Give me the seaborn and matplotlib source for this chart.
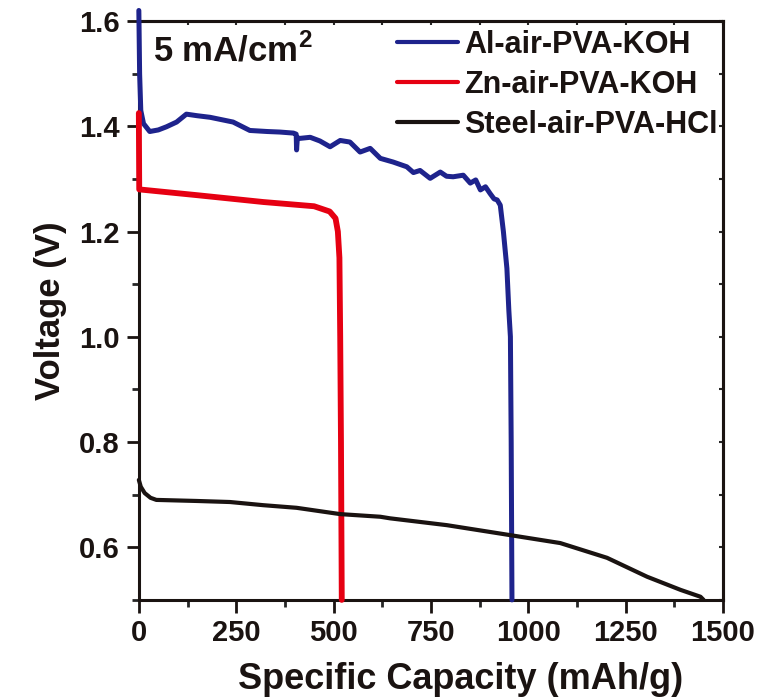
import matplotlib
matplotlib.use("Agg")
import matplotlib.pyplot as plt
import seaborn as sns
import pandas as pd
from matplotlib.ticker import MultipleLocator

# Al-air-PVA-KOH
al_cap = [0, 2, 5, 12, 28, 50, 71, 97, 122, 150, 183, 242, 285, 330, 362, 397, 404, 405,
          407, 414, 440, 465, 491, 517, 542, 568, 594, 620, 653, 688, 705, 722, 748, 774,
          790, 807, 833, 851, 865, 877, 890, 902, 912, 920, 928, 936, 945, 950, 954, 956, 958]
al_volt = [1.62, 1.50, 1.43, 1.405, 1.39, 1.393, 1.399, 1.408, 1.423, 1.420, 1.417, 1.408,
           1.392, 1.390, 1.389, 1.387, 1.385, 1.355, 1.378, 1.377, 1.379, 1.372, 1.361,
           1.373, 1.370, 1.351, 1.358, 1.339, 1.332, 1.323, 1.312, 1.316, 1.301, 1.313,
           1.305, 1.304, 1.307, 1.292, 1.298, 1.279, 1.285, 1.272, 1.262, 1.260, 1.250,
           1.200, 1.130, 1.050, 1.000, 0.800, 0.500]

# Zn-air-PVA-KOH
zn_cap = [0, 0.5, 1, 150, 320, 450, 490, 505, 511, 515, 517, 519, 521]
zn_volt = [1.425, 1.35, 1.28, 1.269, 1.256, 1.248, 1.238, 1.225, 1.20, 1.15, 1.00, 0.80, 0.50]

# Steel-air-PVA-HCl
st_cap = [0, 5, 15, 30, 45, 148, 234, 319, 405, 517, 620, 645, 791, 954, 1082, 1202,
          1305, 1391, 1442, 1450]
st_volt = [0.728, 0.715, 0.703, 0.694, 0.690, 0.688, 0.686, 0.680, 0.675, 0.663, 0.658,
           0.655, 0.642, 0.623, 0.608, 0.580, 0.544, 0.519, 0.506, 0.500]

labels = ["Al-air-PVA-KOH", "Zn-air-PVA-KOH", "Steel-air-PVA-HCl"]
colors = ["#1e238c", "#e60012", "#1a1311"]
widths = [3.6, 4.2, 3.0]

sns.set_theme(style="ticks")
plt.rcParams["font.family"] = ["Liberation Sans", "DejaVu Sans"]
plt.rcParams["font.weight"] = "bold"
plt.rcParams["mathtext.fontset"] = "custom"
plt.rcParams["mathtext.rm"] = "Liberation Sans:bold"
plt.rcParams["mathtext.bf"] = "Liberation Sans:bold"

fig = plt.figure(figsize=(7.8, 7), dpi=100)
ax = fig.add_axes([0.178, 0.143, 0.749, 0.827])

series = [(al_cap, al_volt), (zn_cap, zn_volt), (st_cap, st_volt)]
for (x, y), lab, c, lw in zip(series, labels, colors, widths):
    df = pd.DataFrame({"cap": x, "volt": y})
    sns.lineplot(data=df, x="cap", y="volt", ax=ax, color=c, linewidth=lw,
                 sort=False, estimator=None, label=lab)

# curves sit on top of the left spine and the Al one pokes out above the frame
for ln in ax.lines:
    ln.set_clip_on(False)
    ln.set_zorder(4)

ax.set_xlim(0, 1500)
ax.set_ylim(0.5, 1.6)
ax.xaxis.set_major_locator(MultipleLocator(250))
ax.xaxis.set_minor_locator(MultipleLocator(125))
ax.yaxis.set_minor_locator(MultipleLocator(0.1))
ax.set_yticks([0.6, 0.8, 1.0, 1.2, 1.4, 1.6])
ax.set_yticklabels(["0.6", "0.8", "1.0", "1.2", "1.4", "1.6"])

ax.tick_params(which="major", direction="out", length=9, width=2, labelsize=21, pad=5,
               colors="#1a1311")
ax.tick_params(which="minor", direction="out", length=5, width=2)
for lab in ax.get_xticklabels() + ax.get_yticklabels():
    lab.set_fontweight("bold")

for s in ax.spines.values():
    s.set_linewidth(2.2)
    s.set_color("#1a1311")
    s.set_visible(True)

# tiny inward ticks on top / right
secx = ax.secondary_xaxis("top")
secx.xaxis.set_major_locator(MultipleLocator(125))
secx.tick_params(direction="in", length=3, width=1.5, labeltop=False)
secy = ax.secondary_yaxis("right")
secy.yaxis.set_major_locator(MultipleLocator(0.1))
secy.tick_params(direction="in", length=3, width=1.5, labelright=False)
secx.spines["top"].set_linewidth(2.2)
secy.spines["right"].set_linewidth(2.2)

ax.set_xlabel("Specific Capacity (mAh/g)", fontsize=26, fontweight="bold", color="#1a1311")
ax.set_ylabel("Voltage (V)", fontsize=25, fontweight="bold", color="#1a1311")
ax.xaxis.set_label_coords(0.551, -0.108)
ax.yaxis.set_label_coords(-0.123, 0.5)

ax.text(0.024, 0.949, r"5 mA/cm$^{\mathbf{2}}$", transform=ax.transAxes, fontsize=25,
        fontweight="bold", va="center", ha="left", color="#1a1311")

leg = ax.legend(loc="upper left", bbox_to_anchor=(397 / 780, 1 - 30 / 700),
                bbox_transform=fig.transFigure, frameon=False, fontsize=22,
                handlelength=2.0, handletextpad=0.2, labelspacing=0.32,
                borderpad=0, borderaxespad=0)
for t in leg.get_texts():
    t.set_fontweight("bold")
    t.set_color("#1a1311")
for h in leg.get_lines():
    h.set_linewidth(3)

fig.savefig("out.png", dpi=100)
